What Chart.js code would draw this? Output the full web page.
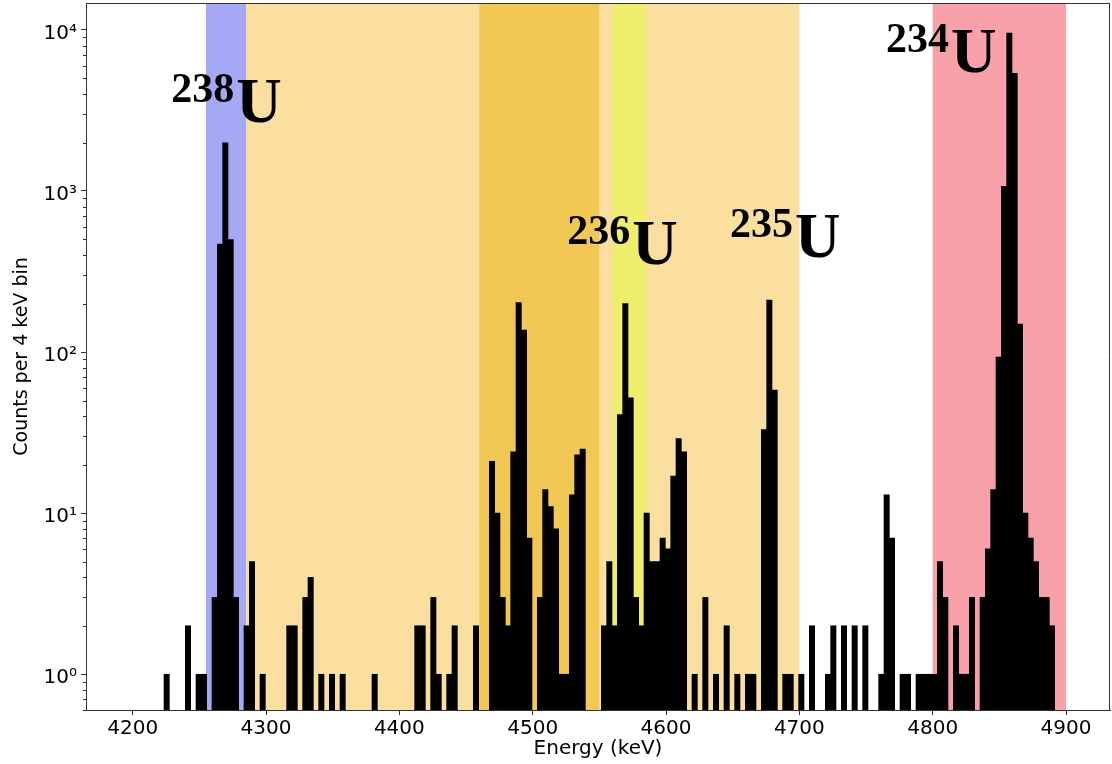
<!DOCTYPE html>
<html lang="en">
<head>
    <meta charset="UTF-8">
    <title>Uranium alpha spectrum</title>
    <script src="https://cdn.jsdelivr.net/npm/chart.js"></script>
    <style>
        body { margin: 0; background: #fff; }
        #box { width: 1112px; height: 764px; }
    </style>
</head>
<body>
    <div id="box">
        <canvas id="espectro" width="1112" height="764"></canvas>
    </div>

    <script>
        // bin centres (keV, 4 keV bins) and counts, only the non-empty bins
        const energias = [
            4225.5, 4241.5, 4249.5, 4253.5, 4261.5, 4265.5, 4269.5, 4273.5, 4277.5, 4285.5,
            4289.5, 4297.5, 4317.5, 4321.5, 4329.5, 4333.5, 4341.5, 4349.5, 4357.5, 4381.5,
            4413.5, 4417.5, 4425.5, 4429.5, 4437.5, 4441.5, 4457.5, 4469.5, 4473.5, 4477.5,
            4481.5, 4485.5, 4489.5, 4493.5, 4497.5, 4505.5, 4509.5, 4513.5, 4517.5, 4521.5,
            4525.5, 4529.5, 4533.5, 4537.5, 4553.5, 4557.5, 4561.5, 4565.5, 4569.5, 4573.5,
            4577.5, 4581.5, 4585.5, 4589.5, 4593.5, 4597.5, 4601.5, 4605.5, 4609.5, 4613.5,
            4621.5, 4629.5, 4637.5, 4645.5, 4653.5, 4661.5, 4665.5, 4673.5, 4677.5, 4681.5,
            4689.5, 4693.5, 4701.5, 4709.5, 4721.5, 4725.5, 4733.5, 4741.5, 4749.5, 4761.5,
            4765.5, 4769.5, 4777.5, 4781.5, 4789.5, 4793.5, 4797.5, 4801.5, 4805.5, 4809.5,
            4817.5, 4821.5, 4825.5, 4829.5, 4837.5, 4841.5, 4845.5, 4849.5, 4853.5, 4857.5,
            4861.5, 4865.5, 4869.5, 4873.5, 4877.5, 4881.5, 4885.5, 4889.5
        ];
        const contagens = [
            1, 2, 1, 1, 3, 468, 1990, 500, 3, 2,
            5, 1, 2, 2, 3, 4, 1, 1, 1, 1,
            2, 2, 3, 1, 1, 2, 2, 21, 10, 3,
            2, 24, 203, 137, 7, 3, 14, 11, 8, 1,
            1, 13, 23, 25, 2, 5, 2, 41, 200, 52,
            3, 2, 10, 5, 5, 7, 6, 17, 29, 24,
            1, 3, 1, 2, 1, 1, 1, 33, 210, 58,
            1, 1, 1, 2, 1, 2, 2, 2, 2, 1,
            13, 7, 1, 1, 1, 1, 1, 1, 5, 3,
            2, 1, 1, 3, 3, 6, 14, 93, 1070, 9560,
            5380, 149, 10, 7, 5, 3, 3, 2
        ];

        // shaded windows [from, to] keV
        const faixasInicio = [4285, 4460, 4560, 4255, 4800];
        const faixasFim    = [4700, 4550, 4585, 4285, 4900];
        const faixasCor    = ['#fbdf9e', '#f2c855', '#ecee6c', '#a5a9f5', '#f8a1a8'];

        // isotope labels: mass number, left edge (keV), baseline (counts)
        const isotopos  = ['238', '236', '235', '234'];
        const isotopoX  = [4229, 4526, 4648, 4765];
        const isotopoY  = [2670, 354, 391, 5500];

        const xTicks = [4200, 4300, 4400, 4500, 4600, 4700, 4800, 4900];
        const yTicks = [1, 10, 100, 1000, 10000];
        const yTickLabels = ['10⁰', '10¹', '10²', '10³', '10⁴'];

        const faixasPlugin = {
            id: 'faixas',
            beforeDatasetsDraw(chart) {
                const { ctx, chartArea, scales } = chart;
                ctx.save();
                for (let i = 0; i < faixasInicio.length; i++) {
                    const x1 = scales.x.getPixelForValue(faixasInicio[i]);
                    const x2 = scales.x.getPixelForValue(faixasFim[i]);
                    ctx.fillStyle = faixasCor[i];
                    ctx.fillRect(x1, chartArea.top, x2 - x1, chartArea.bottom - chartArea.top);
                }
                ctx.restore();
            },
            afterDatasetsDraw(chart) {
                const { ctx, scales } = chart;
                ctx.save();
                ctx.fillStyle = '#000';
                ctx.textBaseline = 'alphabetic';
                ctx.textAlign = 'left';
                for (let i = 0; i < isotopos.length; i++) {
                    const px = scales.x.getPixelForValue(isotopoX[i]);
                    const py = scales.y.getPixelForValue(isotopoY[i]);
                    ctx.font = 'bold 42px "Liberation Serif", "Times New Roman", serif';
                    ctx.fillText(isotopos[i], px, py - 20);
                    const w = ctx.measureText(isotopos[i]).width;
                    ctx.font = 'bold 63px "Liberation Serif", "Times New Roman", serif';
                    ctx.fillText('U', px + w + 2, py);
                }
                ctx.restore();
            },
            afterDraw(chart) {
                const { ctx, chartArea, scales } = chart;
                ctx.save();
                // minor ticks on the log axis
                ctx.strokeStyle = '#333';
                ctx.lineWidth = 1;
                ctx.beginPath();
                for (let e = -1; e <= 4; e++) {
                    for (let m = 2; m <= 9; m++) {
                        const v = m * Math.pow(10, e);
                        if (v < scales.y.min || v > scales.y.max) continue;
                        const y = Math.round(scales.y.getPixelForValue(v)) + 0.5;
                        ctx.moveTo(chartArea.left - 3, y);
                        ctx.lineTo(chartArea.left, y);
                    }
                }
                ctx.stroke();
                // top and right spines
                ctx.beginPath();
                ctx.moveTo(chartArea.left, chartArea.top + 0.5);
                ctx.lineTo(chartArea.right, chartArea.top + 0.5);
                ctx.moveTo(chartArea.right - 0.5, chartArea.top);
                ctx.lineTo(chartArea.right - 0.5, chartArea.bottom);
                ctx.stroke();
                ctx.restore();
            }
        };

        const fonteEixo = { family: 'DejaVu Sans', size: 20 };

        new Chart(document.getElementById('espectro'), {
            type: 'bar',
            data: {
                datasets: [{
                    label: 'Contagens',
                    data: energias.map((e, i) => ({ x: e, y: contagens[i] })),
                    backgroundColor: '#000',
                    borderWidth: 0,
                    barPercentage: 1,
                    categoryPercentage: 1
                }]
            },
            options: {
                responsive: false,
                animation: false,
                layout: { padding: { top: 3, right: 2, left: 0, bottom: 0 } },
                plugins: {
                    legend: { display: false },
                    tooltip: { enabled: false }
                },
                scales: {
                    x: {
                        type: 'linear',
                        offset: false,
                        min: 4165,
                        max: 4933,
                        afterBuildTicks: (s) => { s.ticks = xTicks.map(v => ({ value: v })); },
                        afterFit: (s) => {
                            s.height = 54;
                            s.paddingLeft = 0;
                            s.paddingRight = 0;
                        },
                        grid: { offset: false, drawOnChartArea: false, drawTicks: true, tickLength: 5, color: '#333' },
                        border: { color: '#333', width: 1 },
                        ticks: {
                            color: '#000',
                            font: fonteEixo,
                            padding: 2,
                            maxRotation: 0,
                            autoSkip: false,
                            callback: (v) => String(v)
                        },
                        title: { display: true, text: 'Energy (keV)', color: '#000', font: fonteEixo, padding: { top: 0, bottom: 3 } }
                    },
                    y: {
                        type: 'logarithmic',
                        min: 0.634,
                        max: 14690,
                        afterBuildTicks: (s) => { s.ticks = yTicks.map(v => ({ value: v, major: true })); },
                        afterFit: (s) => {
                            s.width = 86;
                            s.paddingTop = 0;
                            s.paddingBottom = 0;
                        },
                        grid: { drawOnChartArea: false, drawTicks: true, tickLength: 5, color: '#333' },
                        border: { color: '#333', width: 1 },
                        ticks: {
                            color: '#000',
                            font: fonteEixo,
                            padding: 4,
                            labelOffset: 4,
                            autoSkip: false,
                            callback: (v) => {
                                const i = yTicks.indexOf(v);
                                return i >= 0 ? yTickLabels[i] : '';
                            }
                        },
                        title: { display: true, text: 'Counts per 4 keV bin', color: '#000', font: { family: 'DejaVu Sans', size: 19 }, padding: { top: 11, bottom: 0 } }
                    }
                }
            },
            plugins: [faixasPlugin]
        });
    </script>
</body>
</html>
